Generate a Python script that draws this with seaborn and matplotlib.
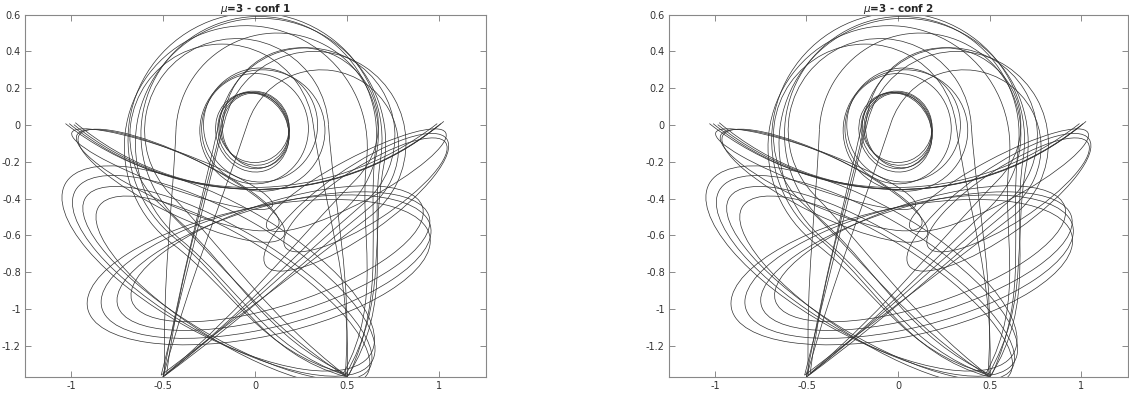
import matplotlib
matplotlib.use("Agg")
import matplotlib.pyplot as plt
from matplotlib.patches import Ellipse, Arc, PathPatch
from matplotlib.path import Path
import numpy as np
import seaborn as sns

# ---- data (data units) ----
titles = [r"$\mu$=3 - conf 1", r"$\mu$=3 - conf 2"]
xticks = [-1, -0.5, 0, 0.5, 1]
xticklabels = ["-1", "-0.5", "0", "0.5", "1"]
yticks = [0.6, 0.4, 0.2, 0, -0.2, -0.4, -0.6, -0.8, -1, -1.2]
yticklabels = ["0.6", "0.4", "0.2", "0", "-0.2", "-0.4", "-0.6", "-0.8", "-1", "-1.2"]
xlim = (-1.25, 1.255)
ylim = (-1.37, 0.6)

# teardrop loops, cusp at the lower left:
# cusp point, loop centre, loop radius, side bulge (deg)
tdA_px = [-0.50, -0.49, -0.51, -0.48, -0.50]
tdA_py = [-1.37, -1.36, -1.36, -1.35, -1.37]
tdA_cx = [0.28, 0.12, 0.32, 0.25, 0.36]
tdA_cy = [-0.06, -0.05, -0.10, 0.00, -0.12]
tdA_r = [0.48, 0.55, 0.50, 0.42, 0.42]
tdA_bulge = [-2, -4, 0, -5, -3]

# teardrop loops, cusp at the lower right (the biggest loops)
tdB_px = [0.50, 0.49, 0.51, 0.48, 0.50, 0.49]
tdB_py = [-1.37, -1.36, -1.36, -1.35, -1.37, -1.36]
tdB_cx = [0.00, 0.03, 0.02, -0.05, -0.18, -0.10]
tdB_cy = [-0.08, -0.10, -0.05, -0.12, -0.06, -0.03]
tdB_r = [0.69, 0.68, 0.64, 0.66, 0.50, 0.50]
tdB_bulge = [-24, -20, -18, -22, -10, -8]

# medium loops around the pivot
loopC_cx = [0.03, 0.04, 0.00]
loopC_cy = [0.00, -0.03, -0.02]
loopC_w = [0.62, 0.68, 0.58]
loopC_h = [0.62, 0.66, 0.60]

# small loop at the pivot
loopD_cx = [-0.01, 0.0, -0.015, 0.005, -0.005]
loopD_cy = [-0.03, -0.02, -0.04, -0.03, -0.01]
loopD_w = [0.38, 0.37, 0.39, 0.36, 0.38]
loopD_h = [0.42, 0.40, 0.44, 0.41, 0.39]
loopD_ang = [20, 15, 25, 18, 22]

# broad loops in the lower left (descending to the right)
loopE_cx = [-0.17, -0.15, -0.20, -0.12]
loopE_cy = [-0.82, -0.86, -0.78, -0.90]
loopE_w = [1.86, 1.80, 1.90, 1.72]
loopE_h = [0.66, 0.58, 0.72, 0.56]
loopE_ang = [-30, -31, -29, -32]

# broad loops in the lower part (rising to the right)
loopF_cx = [0.06, 0.10, 0.02, 0.12]
loopF_cy = [-0.77, -0.74, -0.80, -0.70]
loopF_w = [1.84, 1.76, 1.90, 1.66]
loopF_h = [0.66, 0.60, 0.70, 0.56]
loopF_ang = [14, 16, 12, 18]

# narrow left wing loops (tip near (-1, -0.03))
loopG_cx = [-0.45, -0.42, -0.40]
loopG_cy = [-0.24, -0.30, -0.33]
loopG_w = [1.16, 1.20, 1.24]
loopG_h = [0.20, 0.28, 0.32]
loopG_ang = [-20, -24, -26]

# narrow right wing loops (tip near (1, 0))
loopH_cx = [0.55, 0.60, 0.55]
loopH_cy = [-0.30, -0.38, -0.42]
loopH_w = [1.10, 1.04, 1.20]
loopH_h = [0.24, 0.30, 0.36]
loopH_ang = [28, 33, 35]

# swing arcs from tip to tip ("smile")
arc_cx = [0.0, 0.02, -0.02, 0.01]
arc_cy = [1.254, 1.20, 1.30, 1.23]
arc_d = [3.208, 3.10, 3.28, 3.16]
arc_t1 = [231, 230, 232, 231]
arc_t2 = [309, 309, 308, 310]

sns.set_theme(style="white")
plt.rcParams['font.family'] = ['DejaVu Sans']

fig = plt.figure(figsize=(11.29, 3.96), dpi=100)
positions = [[0.0221, 0.048, 0.4084, 0.915], [0.5926, 0.048, 0.4066, 0.915]]

LC = "#303030"
LW = 0.5


def add_ellipses(ax, cx, cy, w, h, ang=None):
    for i in range(len(cx)):
        a = 0 if ang is None else ang[i]
        ax.add_patch(Ellipse((cx[i], cy[i]), w[i], h[i], angle=a,
                             fill=False, ec=LC, lw=LW))


def add_teardrops(ax, px, py, cx, cy, r, bulge):
    # loop = arc of a circle joined to the cusp by two curved sides
    for i in range(len(px)):
        dx, dy = cx[i] - px[i], cy[i] - py[i]
        d = np.hypot(dx, dy)
        phi = np.degrees(np.arctan2(dy, dx))
        alpha = np.degrees(np.arcsin(r[i] / d))
        L = np.sqrt(d * d - r[i] * r[i])
        for s in (-1, 1):
            u = np.radians(phi + s * alpha)
            v = np.radians(phi + s * (alpha - bulge[i]))
            P = (px[i], py[i])
            T = (px[i] + L * np.cos(u), py[i] + L * np.sin(u))
            c1 = (px[i] + 0.4 * L * np.cos(v), py[i] + 0.4 * L * np.sin(v))
            c2 = (T[0] - 0.35 * L * np.cos(u), T[1] - 0.35 * L * np.sin(u))
            path = Path([P, c1, c2, T],
                        [Path.MOVETO, Path.CURVE4, Path.CURVE4, Path.CURVE4])
            ax.add_patch(PathPatch(path, fill=False, ec=LC, lw=LW))
        ax.add_patch(Arc((cx[i], cy[i]), 2 * r[i], 2 * r[i],
                         theta1=phi - alpha - 90, theta2=phi + alpha + 90,
                         ec=LC, lw=LW))


for k, pos in enumerate(positions):
    ax = fig.add_axes(pos)
    add_teardrops(ax, tdA_px, tdA_py, tdA_cx, tdA_cy, tdA_r, tdA_bulge)
    add_teardrops(ax, tdB_px, tdB_py, tdB_cx, tdB_cy, tdB_r, tdB_bulge)
    add_ellipses(ax, loopC_cx, loopC_cy, loopC_w, loopC_h)
    add_ellipses(ax, loopD_cx, loopD_cy, loopD_w, loopD_h, loopD_ang)
    add_ellipses(ax, loopE_cx, loopE_cy, loopE_w, loopE_h, loopE_ang)
    add_ellipses(ax, loopF_cx, loopF_cy, loopF_w, loopF_h, loopF_ang)
    add_ellipses(ax, loopG_cx, loopG_cy, loopG_w, loopG_h, loopG_ang)
    add_ellipses(ax, loopH_cx, loopH_cy, loopH_w, loopH_h, loopH_ang)
    for i in range(len(arc_cx)):
        ax.add_patch(Arc((arc_cx[i], arc_cy[i]), arc_d[i], arc_d[i],
                         theta1=arc_t1[i], theta2=arc_t2[i], ec=LC, lw=LW))
    ax.set_xlim(*xlim)
    ax.set_ylim(*ylim)
    ax.set_xticks(xticks)
    ax.set_xticklabels(xticklabels)
    ax.set_yticks(yticks)
    ax.set_yticklabels(yticklabels)
    ax.tick_params(direction="in", length=4, width=0.6, color="#777777",
                   labelsize=7, labelcolor="#333333", top=True, right=True,
                   bottom=True, left=True, pad=3)
    for s in ax.spines.values():
        s.set_color("#888888")
        s.set_linewidth(0.8)
    ax.set_title(titles[k], fontsize=7.5, fontweight="bold", pad=2)

fig.savefig("out.png", dpi=100)
